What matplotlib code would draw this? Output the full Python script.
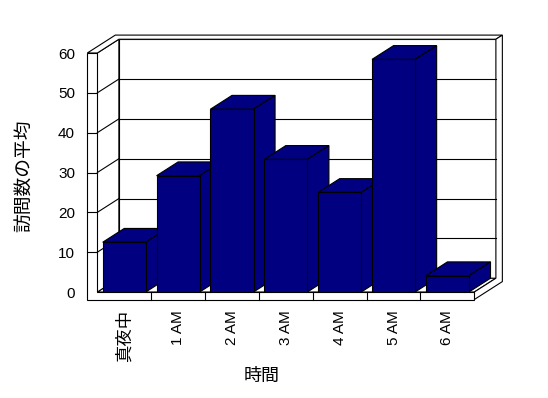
import matplotlib
matplotlib.use("Agg")
from matplotlib import pyplot as plt
from matplotlib.patches import Polygon

plt.rcParams['font.family'] = ['Liberation Sans', 'Noto Sans CJK JP', 'DejaVu Sans']

hours = ['真夜中', '1 AM', '2 AM', '3 AM', '4 AM', '5 AM', '6 AM']
visits = [12.5, 29.2, 45.9, 33.3, 25.0, 58.4, 4.1]
yticks = [0, 10, 20, 30, 40, 50, 60]

NAVY = '#000080'
LW = 0.8
# pseudo 3d depth offset, in data units (categories, values)
dx, dy = 0.40, 3.46
back = 1.3      # outer side of back wall, in multiples of the depth
wall = 0.186    # left wall thickness (categories)
floor = 1.88    # floor thickness (values)
bw = 0.8

fig = plt.figure(figsize=(5.48, 3.98), dpi=100)
ax = fig.add_axes([0.1776, 0.2663, 0.688, 0.6005])
x0, x1 = -0.5, len(hours) - 0.5
ytop = yticks[-1]
ax.set_xlim(x0, x1)
ax.set_ylim(0, ytop)
for s in ax.spines.values():
	s.set_visible(False)

def poly(pts, fc='white', z=1):
	ax.add_patch(Polygon(pts, closed=True, facecolor=fc, edgecolor='black',
		linewidth=LW, zorder=z, clip_on=False, joinstyle='miter'))

def line(xs, ys, z=1.5):
	ax.plot(xs, ys, color='black', linewidth=LW, zorder=z, clip_on=False)

# back wall
poly([(x0 + dx, dy), (x1 + dx, dy), (x1 + dx, ytop + dy), (x0 + dx, ytop + dy)])
# floor top
poly([(x0, 0), (x1, 0), (x1 + dx, dy), (x0 + dx, dy)])
# left wall inner face
poly([(x0, 0), (x0 + dx, dy), (x0 + dx, ytop + dy), (x0, ytop)])
# top of walls
poly([(x0 - wall, ytop), (x0, ytop), (x0 + dx, ytop + dy), (x1 + dx, ytop + dy),
	(x1 + back * dx, ytop + back * dy), (x0 - wall + back * dx, ytop + back * dy)])
# right side of back wall and floor
poly([(x1, 0), (x1, -floor), (x1 + back * dx, -floor + back * dy),
	(x1 + back * dx, ytop + back * dy), (x1 + dx, ytop + dy), (x1 + dx, dy)])
# front of left wall and floor
poly([(x0 - wall, -floor), (x1, -floor), (x1, 0), (x0, 0), (x0, ytop), (x0 - wall, ytop)])

for k in yticks[1:-1]:
	line([x0 + dx, x1 + dx], [k + dy, k + dy])
	line([x0, x0 + dx], [k, k + dy])
	line([x0 - wall, x0], [k, k])
for i in range(1, len(hours)):
	line([x0 + i, x0 + i], [-floor, 0])

xs = list(range(len(hours)))
bars = ax.bar(xs, visits, width=bw, color=NAVY, edgecolor='black', linewidth=LW)
for i, (b, v) in enumerate(zip(bars, visits)):
	l, r = i - bw / 2, i + bw / 2
	poly([(l, v), (r, v), (r + dx, v + dy), (l + dx, v + dy)], fc=NAVY, z=4 + 2 * i)
	poly([(r, 0), (r, v), (r + dx, v + dy), (r + dx, dy)], fc=NAVY, z=4 + 2 * i)
	b.set_zorder(5 + 2 * i)

ax.set_yticks(yticks)
ax.set_yticklabels([str(t) for t in yticks])
ax.set_xticks(xs)
ax.set_xticklabels(hours, rotation=90)
ax.tick_params(axis='y', length=0, pad=16, labelsize=11)
ax.tick_params(axis='x', length=0, pad=13, labelsize=11)
ax.get_xticklabels()[0].set_fontsize(12.5)

fig.text(25 / 548, 1 - 176 / 398, '訪問数の平均', rotation=90, ha='center', va='center',
	fontsize=13.5, family=['Noto Sans CJK JP', 'DejaVu Sans'])
fig.text(262 / 548, 1 - 376 / 398, '時間', ha='center', va='center',
	fontsize=13, family=['Noto Sans CJK JP', 'DejaVu Sans'])

plt.savefig('out.png', dpi=100)
plt.close()
